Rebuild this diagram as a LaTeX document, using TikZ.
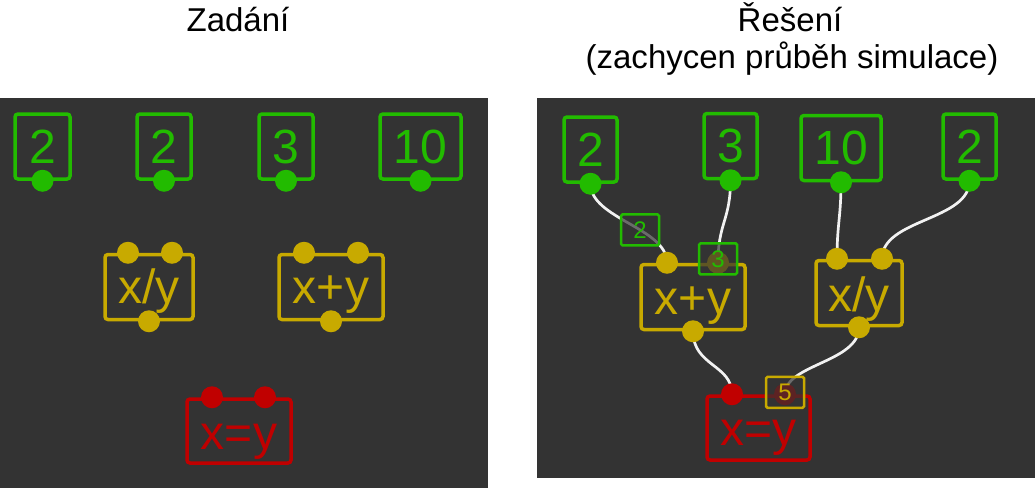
\documentclass[tikz,border=0pt]{standalone}
\usepackage{fontspec}
\setmainfont{Liberation Sans}
\definecolor{panel}{HTML}{333333}
\definecolor{valgreen}{HTML}{22BB00}
\definecolor{opyellow}{HTML}{C8AA00}
\definecolor{eqred}{HTML}{C00000}
\definecolor{wirewhite}{HTML}{F2F2F2}
\tikzset{
  valbox/.style={draw=valgreen, line width=3.5pt, rounded corners=3pt, inner sep=0pt,
    minimum height=65pt, text=valgreen, font=\fontsize{48}{48}\selectfont},
  opbox/.style={draw=opyellow, line width=3.5pt, rounded corners=3pt, minimum height=65pt},
  eqbox/.style={draw=eqred, line width=3.5pt, rounded corners=3pt, minimum height=64pt},
  optext/.style={anchor=base, inner sep=0pt, font=\fontsize{48}{48}\selectfont},
  title/.style={anchor=base, inner sep=0pt, font=\fontsize{33}{33}\selectfont},
  wire/.style={draw=wirewhite, line width=2.7pt},
  tag/.style={line width=2.5pt, rounded corners=1.5pt, fill=panel, fill opacity=0.7,
    text opacity=1, inner sep=0pt, minimum width=38pt, minimum height=31pt,
    font=\fontsize{24}{24}\selectfont},
}
\begin{document}
\begin{tikzpicture}[x=1pt,y=-1pt]
  \useasboundingbox (0,0) rectangle (1035,488);
  % panels and titles
  \fill[panel] (0,98) rectangle (488,488);
  \fill[panel] (537,98) rectangle (1035,478);
  \node[title] (zadani) at (238,31) {Zadání};
  \node[title] (reseni) at (790,31) {Řešení};
  \node[title] (simul) at (792,68) {(zachycen průběh simulace)};

  % left: the task
  \node[valbox, minimum width=55pt] (gA) at (42.5,146.5) {2};
  \node[valbox, minimum width=54pt] (gB) at (164,146.5) {2};
  \node[valbox, minimum width=54pt] (gC) at (286,146.5) {3};
  \node[valbox, minimum width=81pt] (gD) at (420.5,146.5) {10};
  \node[opbox, minimum width=88pt] (divL) at (149,287) {};
  \node[opbox, minimum width=104pt] (plusL) at (331,287) {};
  \node[eqbox, minimum width=104pt] (eqL) at (239,431) {};
  \node[optext, text=opyellow] at ([yshift=18pt]divL.south) {x/y};
  \node[optext, text=opyellow] at ([yshift=18pt]plusL.south) {x+y};
  \node[optext, text=eqred] at ([yshift=15pt]eqL.south) {x=y};
  \coordinate (divL-x) at ([xshift=-21pt]divL.north);
  \coordinate (divL-y) at ([xshift=23pt]divL.north);
  \coordinate (plusL-x) at ([xshift=-27pt]plusL.north);
  \coordinate (plusL-y) at ([xshift=27pt]plusL.north);
  \coordinate (eqL-x) at ([xshift=-27pt]eqL.north);
  \coordinate (eqL-y) at ([xshift=26pt]eqL.north);
  \foreach \p in {gA,gB,gC,gD}
    \fill[valgreen] (\p.south) circle (11pt);
  \foreach \p in {divL-x,divL-y,divL.south,plusL-x,plusL-y,plusL.south}
    \fill[opyellow] (\p) circle (11pt);
  \fill[eqred] (eqL-x) circle (11pt);
  \fill[eqred] (eqL-y) circle (11pt);

  % right: the solution
  \node[valbox, minimum width=53pt] (gE) at (590.5,149.5) {2};
  \node[valbox, minimum width=53pt] (gF) at (730.5,146) {3};
  \node[valbox, minimum width=80pt] (gG) at (841,148) {10};
  \node[valbox, minimum width=53pt] (gH) at (969.5,146.5) {2};
  \node[opbox, minimum width=104pt] (plusR) at (693,297) {};
  \node[opbox, minimum width=86pt] (divR) at (859,293) {};
  \node[eqbox, minimum width=103pt] (eqR) at (758.5,428) {};
  \node[optext, text=opyellow] at ([yshift=17pt]plusR.south) {x+y};
  \node[optext, text=opyellow] at ([yshift=16pt]divR.south) {x/y};
  \node[optext, text=eqred] at ([yshift=16pt]eqR.south) {x=y};
  \coordinate (plusR-x) at ([xshift=-26pt]plusR.north);
  \coordinate (plusR-y) at ([xshift=25pt]plusR.north);
  \coordinate (divR-x) at ([xshift=-22pt]divR.north);
  \coordinate (divR-y) at ([xshift=23pt]divR.north);
  \coordinate (eqR-x) at ([xshift=-26.5pt]eqR.north);
  \coordinate (eqR-y) at ([xshift=26.5pt]eqR.north);
  % wires
  \draw[wire] (gE.south) .. controls +(0,35) and +(0,-35) .. (plusR-x)
    node[tag, draw=valgreen, text=valgreen, pos=0.6] (tagA) {2};
  \draw[wire] (gF.south) .. controls +(0,40) and +(0,-40) .. (plusR-y);
  \draw[wire] (gG.south) .. controls +(0,35) and +(0,-35) .. (divR-x);
  \draw[wire] (gH.south) .. controls +(0,40) and +(0,-40) .. (divR-y);
  \draw[wire] (plusR.south) .. controls +(0,35) and +(0,-30) .. (eqR-x);
  \draw[wire] (divR.south) .. controls +(0,35) and +(0,-30) .. (eqR-y);
  \foreach \p in {gE,gF,gG,gH}
    \fill[valgreen] (\p.south) circle (11pt);
  \foreach \p in {plusR-x,plusR-y,plusR.south,divR-x,divR-y,divR.south}
    \fill[opyellow] (\p) circle (11pt);
  \fill[eqred] (eqR-x) circle (11pt);
  \fill[eqred] (eqR-y) circle (11pt);
  % values in transit
  \node[tag, draw=valgreen, text=valgreen] (tagB) at ([yshift=4pt]plusR-y) {3};
  \node[tag, draw=opyellow, text=opyellow] (tagC) at ([yshift=2pt]eqR-y) {5};
\end{tikzpicture}
\end{document}
